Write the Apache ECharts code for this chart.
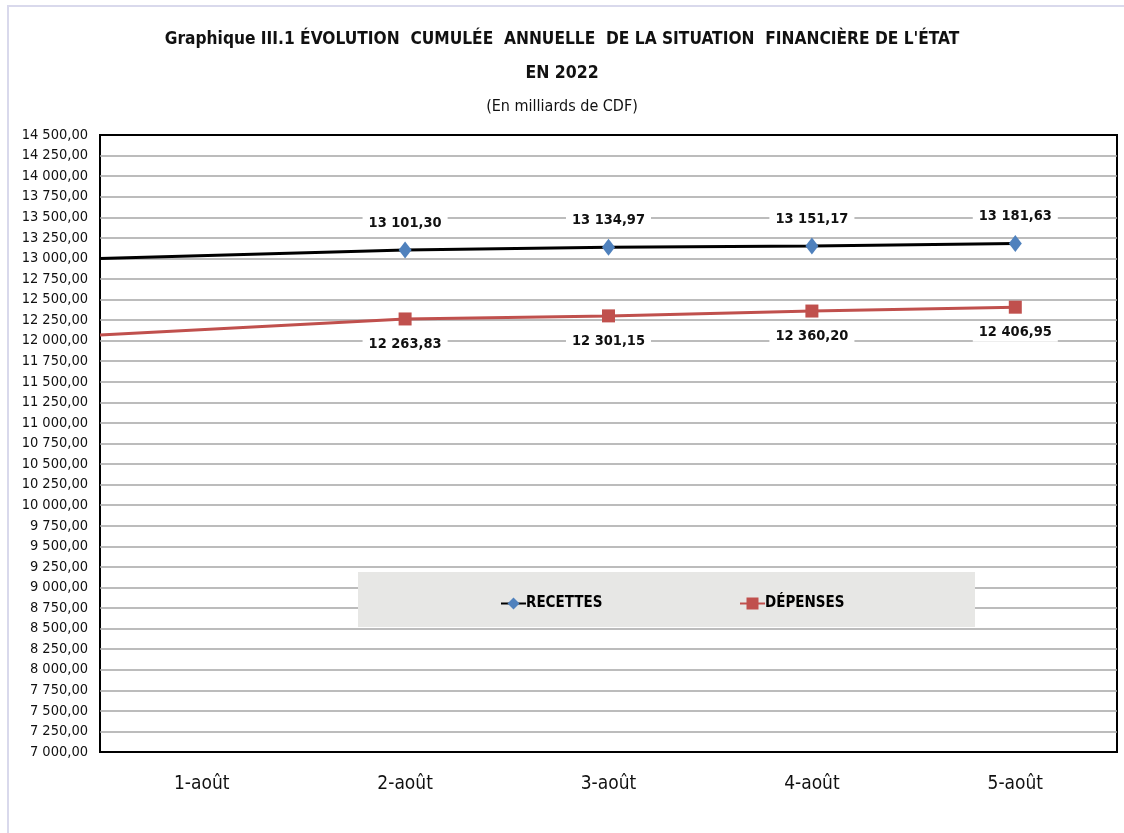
<!DOCTYPE html>
<html><head><meta charset="utf-8">
<script src="https://cdn.jsdelivr.net/npm/echarts@6/dist/echarts.min.js"></script>
<style>
html,body{margin:0;padding:0;background:#fff;}
#wrap{position:absolute;left:0;top:0;width:1124px;height:833px;}
#frame{position:absolute;left:7px;top:5px;width:1117px;height:828px;border-left:2px solid #d9d9ec;border-top:2px solid #d9d9ec;box-sizing:border-box;}
#c{position:absolute;left:0;top:0;width:1124px;height:833px;}
</style></head>
<body><div id="wrap"><div id="frame"></div><div id="c"></div></div>
<script>
const categories = ['1-août','2-août','3-août','4-août','5-août'];
// x positions: 0.5 = left edge of plot (line start), then category indices
const xPositions = [0.5, 2, 3, 4, 5];
const recettes = [13000.00, 13101.30, 13134.97, 13151.17, 13181.63];
const depenses = [12070.00, 12263.83, 12301.15, 12360.20, 12406.95];
const yMin = 7000, yMax = 14500, yStep = 250;

const FONT = '"DejaVu Sans Condensed","Liberation Sans Narrow","Open Sans",sans-serif';
function fr(v){
  const s = v.toFixed(2).split('.');
  return s[0].replace(/\B(?=(\d{3})+(?!\d))/g,' ') + ',' + s[1];
}
function build(vals){
  return vals.map((v,i)=>{
    const it = {value:[xPositions[i], v]};
    if(i===0){ it.symbol='none'; it.label={show:false}; }
    return it;
  });
}
const legendText = {fontFamily:FONT, fontSize:15, fontWeight:'bold', color:'#000', padding:[0,0,0,-5]};
const chart = echarts.init(document.getElementById('c'), null, {renderer:'canvas'});
chart.setOption({
  animation:false,
  backgroundColor:'transparent',
  title:[
    {text:"Graphique III.1 ÉVOLUTION  CUMULÉE  ANNUELLE  DE LA SITUATION  FINANCIÈRE DE L'ÉTAT", left:'center', top:26,
     textStyle:{fontFamily:FONT, fontSize:17.2, fontWeight:'bold', color:'#111'}},
    {text:'EN 2022', left:'center', top:59, textStyle:{fontFamily:FONT, fontSize:17.5, fontWeight:'bold', color:'#111'}},
    {text:'(En milliards de CDF)', left:'center', top:94, textStyle:{fontFamily:FONT, fontSize:16, fontWeight:'normal', color:'#111'}}
  ],
  grid:{left:100, right:7, top:135, bottom:81, show:true, borderColor:'#000', borderWidth:2, backgroundColor:'#fff'},
  graphic:[{type:'rect', shape:{x:358,y:572,width:617,height:55}, style:{fill:'#e7e7e5'}, z:5}],
  legend:[
    {data:['RECETTES'], left:495, top:591, itemWidth:25, itemHeight:15, z:6, textStyle:legendText},
    {data:['DÉPENSES'], left:734, top:591, itemWidth:25, itemHeight:15, z:6, textStyle:legendText}
  ],
  xAxis:[
    {type:'category', data:categories, boundaryGap:true, position:'bottom',
     axisLine:{show:false}, axisTick:{show:false}, splitLine:{show:false},
     axisLabel:{fontFamily:FONT, fontSize:19, color:'#111', margin:23}},
    {type:'value', min:0.5, max:5.5, show:false}
  ],
  yAxis:{type:'value', min:yMin, max:yMax, interval:yStep,
    axisLine:{show:false}, axisTick:{show:false},
    splitLine:{showMinLine:false, showMaxLine:false, lineStyle:{color:'#a6a6a6', width:1.5}},
    axisLabel:{fontFamily:FONT, fontSize:14.5, color:'#111', margin:12, formatter:v=>fr(v)}},
  series:[
    {name:'RECETTES', type:'line', xAxisIndex:1, data:build(recettes),
     symbol:'diamond', symbolSize:[13,17], itemStyle:{color:'#4F81BD'},
     lineStyle:{color:'#000', width:3}, z:3,
     label:{show:true, position:'top', distance:9, formatter:p=>fr(p.value[1]),
       fontFamily:FONT, fontSize:14.5, fontWeight:'bold', color:'#111', backgroundColor:'#fff', padding:[2,6]}},
    {name:'DÉPENSES', type:'line', xAxisIndex:1, data:build(depenses),
     symbol:'rect', symbolSize:13, itemStyle:{color:'#C0504D'},
     lineStyle:{color:'#C0504D', width:3}, z:3,
     label:{show:true, position:'bottom', distance:9, formatter:p=>fr(p.value[1]),
       fontFamily:FONT, fontSize:14.5, fontWeight:'bold', color:'#111', backgroundColor:'#fff', padding:[2,6]}}
  ]
});
</script></body></html>
